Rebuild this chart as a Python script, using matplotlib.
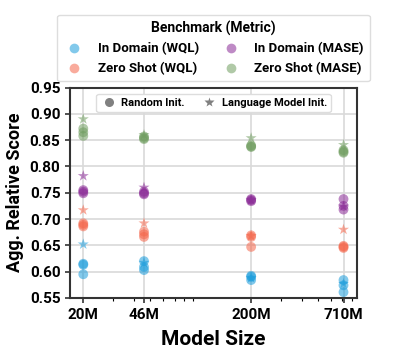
import numpy as np
import matplotlib.pyplot as plt
from matplotlib.lines import Line2D
from matplotlib.ticker import NullFormatter, LogLocator

plt.rcParams['font.family'] = ['Roboto', 'DejaVu Sans']
plt.rcParams['font.weight'] = 'bold'

sizes = [20, 46, 200, 710]
size_labels = ['20M', '46M', '200M', '710M']

# random init: several runs per model size
in_wql_rand = [[0.615, 0.613, 0.595], [0.620, 0.609, 0.603], [0.592, 0.590, 0.584], [0.584, 0.574, 0.561]]
zs_wql_rand = [[0.692, 0.689, 0.686], [0.676, 0.671, 0.666], [0.669, 0.666, 0.647], [0.649, 0.647, 0.645]]
in_mase_rand = [[0.755, 0.752, 0.749], [0.752, 0.749, 0.747], [0.738, 0.736, 0.734], [0.738, 0.725, 0.718]]
zs_mase_rand = [[0.872, 0.865, 0.858], [0.857, 0.854, 0.852], [0.840, 0.838, 0.837], [0.831, 0.828, 0.826]]

# language model init: one run per model size
in_wql_lm = [0.652, 0.617, 0.588, 0.577]
zs_wql_lm = [0.717, 0.692, 0.668, 0.680]
in_mase_lm = [0.782, 0.760, 0.736, 0.724]
zs_mase_lm = [0.890, 0.860, 0.854, 0.841]

series = [
    ('In Domain (WQL)', '#1b9ddc', in_wql_rand, in_wql_lm),
    ('Zero Shot (WQL)', '#f5664b', zs_wql_rand, zs_wql_lm),
    ('In Domain (MASE)', '#8a2a96', in_mase_rand, in_mase_lm),
    ('Zero Shot (MASE)', '#6f9d5f', zs_mase_rand, zs_mase_lm),
]

fig = plt.figure(figsize=(3.94, 3.53), dpi=100)
ax = fig.add_axes([0.178, 0.156, 0.728, 0.596])

for name, col, rand, lm in series:
    for s, vals in zip(sizes, rand):
        ax.scatter([s] * len(vals), vals, s=50, color=col, alpha=0.55, edgecolors='none', zorder=3)
    ax.scatter(sizes, lm, marker='*', s=70, color=col, alpha=0.55, edgecolors='none', zorder=3)

ax.set_xscale('log')
ax.set_xlim(16.7, 854)
ax.set_ylim(0.55, 0.95)
ax.set_xticks(sizes)
ax.set_xticklabels(size_labels)
ax.xaxis.set_minor_locator(LogLocator(subs=np.arange(2, 10)))
ax.xaxis.set_minor_formatter(NullFormatter())
ax.set_yticks(np.arange(0.55, 0.951, 0.05))
ax.set_yticklabels([f'{v:.2f}' for v in np.arange(0.55, 0.951, 0.05)])
ax.tick_params(labelsize=11, width=1.2, color='#333333')
ax.tick_params(which='minor', length=2.5, width=0.8)
ax.grid(True, which='major', color='#d9d9d9', linewidth=1.2, zorder=0)
ax.set_axisbelow(True)
for sp in ax.spines.values():
    sp.set_linewidth(1.5)
    sp.set_color('#333333')

ax.set_xlabel('Model Size', fontsize=15, fontweight='bold', labelpad=6)
ax.set_ylabel('Agg. Relative Score', fontsize=13, fontweight='bold')

bench_handles = [Line2D([], [], marker='o', linestyle='none', markersize=7, color=c,
                        alpha=0.55, markeredgecolor='none', label=n) for n, c, _, _ in series]
leg1 = ax.legend(handles=bench_handles, title='Benchmark (Metric)', ncol=2,
                 loc='lower center', bbox_to_anchor=(0.5, 1.03), fontsize=9.5,
                 title_fontproperties={'weight': 'bold', 'size': 10},
                 columnspacing=1.6, handletextpad=1.0, handlelength=1.6,
                 borderaxespad=0, framealpha=1,
                 edgecolor='#dddddd', labelspacing=0.5, borderpad=0.45)
ax.add_artist(leg1)

init_handles = [
    Line2D([], [], marker='o', linestyle='none', markersize=6.5, color='gray', markeredgecolor='none', label='Random Init.'),
    Line2D([], [], marker='*', linestyle='none', markersize=7.5, color='gray', markeredgecolor='none', label='Language Model Init.'),
]
ax.legend(handles=init_handles, ncol=2, loc='upper center', fontsize=8,
          bbox_to_anchor=(0.5, 0.98), borderaxespad=0.2, framealpha=1,
          edgecolor='#dddddd', handletextpad=0.3, columnspacing=1.4,
          handlelength=1.6, borderpad=0.35)

fig.savefig('out.png', dpi=100)
